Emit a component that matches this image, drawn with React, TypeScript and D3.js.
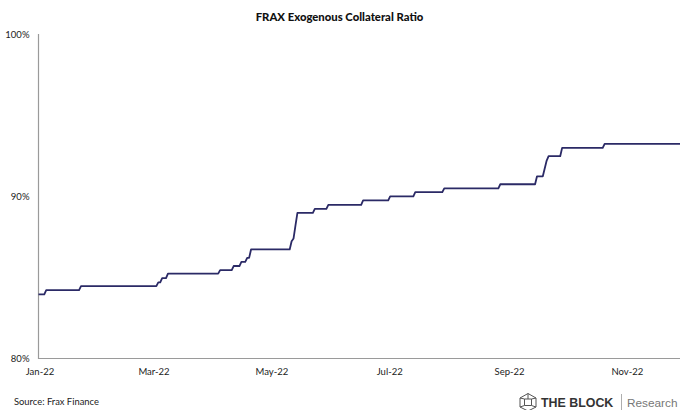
import React from "react";
import * as d3 from "d3";

const title = "FRAX Exogenous Collateral Ratio";
const source = "Source: Frax Finance";
const dates = ["2022-01-01","2022-01-04","2022-01-05","2022-01-22","2022-01-23","2022-03-03","2022-03-04","2022-03-05","2022-03-06","2022-03-08","2022-03-09","2022-04-04","2022-04-05","2022-04-11","2022-04-12","2022-04-15","2022-04-16","2022-04-18","2022-04-19","2022-04-20","2022-04-21","2022-05-11","2022-05-12","2022-05-13","2022-05-14","2022-05-15","2022-05-23","2022-05-24","2022-05-30","2022-05-31","2022-06-17","2022-06-18","2022-07-01","2022-07-02","2022-07-14","2022-07-15","2022-07-29","2022-07-30","2022-08-27","2022-08-28","2022-09-15","2022-09-16","2022-09-19","2022-09-21","2022-09-22","2022-09-28","2022-09-29","2022-10-20","2022-10-21","2022-11-29"];
const ratio = [83.95,83.95,84.22,84.22,84.46,84.46,84.69,84.69,84.95,84.95,85.23,85.23,85.45,85.45,85.7,85.7,85.95,85.95,86.2,86.2,86.72,86.72,87.23,87.4,88.2,88.98,88.98,89.22,89.22,89.47,89.47,89.74,89.74,89.99,89.99,90.25,90.25,90.49,90.49,90.74,90.74,91.23,91.23,92.2,92.47,92.47,92.98,92.98,93.23,93.23];
const yTicks = [80, 90, 100];
const xTickDates = ["2022-01-01","2022-03-01","2022-05-01","2022-07-01","2022-09-01","2022-11-01"];

const font = "Lato, 'Noto Sans', sans-serif";
const logoFont = "'Liberation Sans', Arial, sans-serif";
const parse = d3.utcParse("%Y-%m-%d");

export default function App() {
  const x = d3.scaleUtc().domain([parse("2022-01-01")!, parse("2022-11-29")!]).range([38.5, 680]);
  const y = d3.scaleLinear().domain([80, 100]).range([358.5, 34]);
  const line = d3.line<number>()
    .x((_, i) => x(parse(dates[i])!))
    .y((d) => y(d));
  const fmt = d3.utcFormat("%b-%y");
  return (
    <svg width={680} height={410} style={{ position: "fixed", left: 0, top: 0, background: "#fff" }} fontFamily={font}>
      <text x={339.5} y={21} textAnchor="middle" fontSize={11.3} fontWeight={900} fill="#111">{title}</text>
      <line x1={38.5} x2={38.5} y1={34} y2={359} stroke="#9a9a9a" strokeWidth={1.2} />
      <line x1={38} x2={680} y1={358.5} y2={358.5} stroke="#9a9a9a" strokeWidth={1.2} />
      {yTicks.map((t) => (
        <text key={t} x={29.5} y={y(t) + 3.5} textAnchor="end" fontSize={9.5} fill="#222">{t}%</text>
      ))}
      {xTickDates.map((t) => (
        <text key={t} x={x(parse(t)!) + 1.5} y={375} textAnchor="middle" fontSize={9.5} fill="#222">{fmt(parse(t)!)}</text>
      ))}
      <path d={line(ratio)!} fill="none" stroke="#2b2a66" strokeWidth={1.8} strokeLinejoin="round" />
      <text x={14} y={405} fontSize={9.4} fill="#222">{source}</text>
      <g fill="none" stroke="#555" strokeWidth={1}>
        <path d="M528 393.5 L536 398 L536 407 L528 411 L520 407 L520 398 Z" />
        <path d="M524.5 399 L531.5 399 L531.5 405.5 L524.5 405.5 Z" />
        <path d="M520 398 L524.5 399 M536 398 L531.5 399 M520 407 L524.5 405.5 M536 407 L531.5 405.5 M528 393.5 L528 399" />
      </g>
      <text x={541} y={407} fontFamily={logoFont} fontSize={12.4} fontWeight={700} fill="#333">THE BLOCK</text>
      <line x1={621.5} x2={621.5} y1={394} y2={410} stroke="#999" strokeWidth={0.8} />
      <text x={627} y={407} fontFamily={logoFont} fontSize={11.8} fill="#777">Research</text>
    </svg>
  );
}
